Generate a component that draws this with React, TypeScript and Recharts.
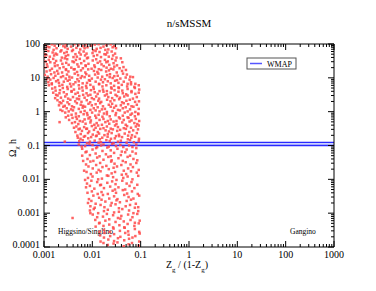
import React from 'react';
import { ScatterChart, Scatter, XAxis, YAxis, ReferenceLine, ReferenceArea } from 'recharts';

// ---- axes ----
const xMajorTicks = [0.001, 0.01, 0.1, 1, 10, 100, 1000];
const xTickLabels = ['0.001', '0.01', '0.1', '1', '10', '100', '1000'];
const yMajorTicks = [0.0001, 0.001, 0.01, 0.1, 1, 10, 100];
const yTickLabels = ['0.0001', '0.001', '0.01', '0.1', '1', '10', '100'];
const minorMultipliers = [2, 3, 4, 5, 6, 7, 8, 9];

// ---- WMAP band ----
const wmapLow = 0.1;
const wmapHigh = 0.123;

// ---- scan points: each row = [Zg/(1-Zg) values], [Omega h^2 values] ----
const upperRows: [number[], number[]][] = [
  [[0.00102,0.00117,0.00145,0.00166,0.00209,0.00251,0.00282,0.00363,0.00427,0.00513,0.00631,0.00724,0.00955,0.0112,0.0135,0.017,0.0195,0.024,0.0282],
   [93,84,98,89,99,86.5,96.5,84,99,93,86.5,98,89,96.5,99,84,93,98,86.5]],
  [[0.0011,0.00129,0.00158,0.00182,0.00229,0.00275,0.00309,0.00398,0.00468,0.00562,0.00692,0.00794,0.0105,0.0123,0.0148,0.0186,0.0214,0.0263,0.0309],
   [69,80,67,75,65,80,72,67,77,69,75,80,65,72,77,67,69,80,75]],
  [[0.00105,0.00123,0.00151,0.00174,0.00219,0.00263,0.00295,0.0038,0.00447,0.00537,0.00661,0.00759,0.0101,0.0117,0.0141,0.0178,0.0204,0.0251,0.0295],
   [50,62,56,52,60,54,58,62,50,56,60,52,54,62,58,50,56,60,52]],
  [[0.00102,0.00112,0.00132,0.00162,0.00186,0.00234,0.00282,0.00316,0.00407,0.00479,0.00575,0.00708,0.00813,0.0107,0.0126,0.0151,0.0191,0.0219,0.0269,0.0316],
   [41,47,42.2,45.8,48.8,39.6,44,47,41,42.2,48.8,45.8,39.6,44,47,41,48.8,42.2,45.8,39.6]],
  [[0.00107,0.00126,0.00155,0.00178,0.00224,0.00269,0.00302,0.00389,0.00457,0.0055,0.00676,0.00776,0.0102,0.012,0.0145,0.0182,0.0209,0.0257,0.0302,0.0389],
   [30.6,34,36.4,31.6,32.6,37.7,35.4,30.6,34,36.4,31.6,37.7,32.6,35.4,30.6,34,30.6,36.4,32.6,37.7]],
  [[0.00115,0.00135,0.00166,0.00191,0.0024,0.00288,0.00324,0.00417,0.0049,0.00589,0.00724,0.00832,0.011,0.0129,0.0155,0.0195,0.0224,0.0275,0.0324,0.0417],
   [25,28.9,27,23.4,26,27.8,24.2,28.9,25,27,23.4,26,23.4,27.8,25,28.9,24.2,27,23.4,28.9]],
  [[0.00101,0.00118,0.00146,0.00168,0.00211,0.00253,0.00285,0.00367,0.00431,0.00518,0.00637,0.00731,0.00965,0.0113,0.0136,0.0172,0.0197,0.0242,0.0285,0.0367,0.0441],
   [20,21.4,18.6,22.2,19.2,20.8,18,20,18,21.4,19.2,22.2,18.6,20.8,18,22.2,20,18.6,21.4,19.2,20.8]],
  [[0.00113,0.00133,0.00164,0.00188,0.00237,0.00285,0.0032,0.00412,0.00484,0.00582,0.00716,0.00822,0.0108,0.0127,0.0153,0.0193,0.0221,0.0272,0.032,0.0412,0.0496],
   [15.4,16.6,14.4,16,14.4,17.1,15.4,17.8,14.9,16.6,14.4,17.8,16,14.9,17.1,15.4,16.6,17.8,14.4,16,17.1]],
  [[0.00104,0.00119,0.0014,0.00172,0.00197,0.00248,0.00299,0.00335,0.00432,0.00507,0.0061,0.0075,0.00861,0.0114,0.0133,0.016,0.0202,0.0232,0.0285,0.0335,0.0432,0.0519,0.061],
   [12.2,10.8,12.8,11.5,13.3,11.2,12.5,10.8,13.3,12,11.2,12.8,11.5,12.5,13.3,10.8,12,12.8,11.2,11.5,13.3,12.5,10.8]],
  [[0.00116,0.00135,0.00158,0.00195,0.00224,0.00282,0.00339,0.0038,0.0049,0.00575,0.00692,0.00851,0.00977,0.0129,0.0151,0.0182,0.0229,0.0263,0.0324,0.038,0.049,0.0589,0.0692],
   [9.2,8.85,9.9,8.55,10.5,9.5,8.85,10.2,9.1,9.9,10.5,8.55,9.5,10.2,8.85,9.1,10.5,9.9,8.55,9.5,10.2,8.85,10.5]],
  [[0.00123,0.00145,0.00178,0.00204,0.00257,0.00309,0.00347,0.00447,0.00525,0.00631,0.00776,0.00891,0.0117,0.0138,0.0166,0.0209,0.024,0.0295,0.0347,0.0447,0.0537,0.0631,0.0776],
   [7.4,6.88,7.9,7.1,7.7,8.2,6.66,7.4,7.9,6.88,7.1,8.2,7.7,6.66,7.4,7.9,6.88,8.2,7.1,7.7,6.66,7.4,6.66]],
  [[0.00126,0.00145,0.0017,0.00209,0.0024,0.00302,0.00363,0.00407,0.00525,0.00617,0.00741,0.00912,0.0105,0.0138,0.0162,0.0195,0.0245,0.0282,0.0347,0.0407,0.0525,0.0631,0.0741,0.0912],
   [6.03,6.44,5.2,5.8,6.2,5.4,5.57,6.44,6.03,5.2,5.8,6.2,5.4,6.44,5.57,6.03,5.2,5.8,5.2,6.2,5.57,6.44,5.4,6.03]],
  [[0.00148,0.00174,0.00214,0.00245,0.00309,0.00372,0.00417,0.00537,0.00631,0.00759,0.00933,0.0107,0.0141,0.0166,0.02,0.0251,0.0288,0.0355,0.0417,0.0537,0.0646,0.0759,0.0933],
   [4.82,4.19,4.32,5.0,4.68,4.05,4.5,4.82,4.19,5.0,4.32,4.68,4.05,4.5,4.05,4.82,4.32,5.0,4.19,4.68,4.05,5.0,4.5]],
  [[0.00155,0.00178,0.00209,0.00257,0.00295,0.00372,0.00447,0.00501,0.00646,0.00759,0.00912,0.0112,0.0129,0.017,0.02,0.024,0.0302,0.0347,0.0427,0.0501,0.0646,0.0776,0.0912],
   [3.64,3.15,3.5,3.75,3.26,3.89,3.36,3.64,3.15,3.5,3.15,3.75,3.36,3.89,3.26,3.64,3.15,3.89,3.5,3.26,3.75,3.36,3.64]],
  [[0.0017,0.00191,0.00224,0.00275,0.00316,0.00398,0.00479,0.00537,0.00692,0.00813,0.00977,0.012,0.0138,0.0182,0.0214,0.0257,0.0324,0.0372,0.0457,0.0537,0.0692,0.0832],
   [2.51,3.0,2.59,2.81,2.43,2.7,2.43,2.89,2.59,3.0,2.51,2.81,2.43,3.0,2.7,2.51,2.89,2.59,2.81,3.0,2.43,2.7]],
  [[0.0019,0.00211,0.00248,0.00306,0.00351,0.00442,0.00531,0.00596,0.00767,0.00902,0.0108,0.0133,0.0153,0.0202,0.0237,0.0285,0.0359,0.0412,0.0507,0.0596,0.0767,0.0923],
   [2.18,1.89,2.1,1.89,2.25,2.02,2.33,1.95,2.18,1.89,2.33,2.1,1.95,2.25,2.02,2.18,2.33,1.89,2.1,2.25,1.95,2.02]],
  [[0.00204,0.00229,0.00269,0.00331,0.0038,0.00479,0.00575,0.00646,0.00832,0.00977,0.0117,0.0145,0.0166,0.0219,0.0257,0.0309,0.0389,0.0447,0.055,0.0646,0.0832],
   [1.54,1.78,1.49,1.66,1.44,1.78,1.6,1.49,1.71,1.54,1.66,1.78,1.44,1.6,1.71,1.49,1.54,1.78,1.66,1.44,1.6]],
  [[0.00219,0.00251,0.00295,0.00363,0.00417,0.00525,0.00631,0.00708,0.00912,0.0107,0.0129,0.0158,0.0182,0.024,0.0282,0.0339,0.0427,0.049,0.0603,0.0708,0.0912],
   [1.13,1.4,1.26,1.17,1.35,1.21,1.31,1.4,1.13,1.26,1.35,1.17,1.21,1.4,1.31,1.13,1.26,1.35,1.17,1.4,1.21]],
  [[0.0024,0.00275,0.00324,0.00398,0.00457,0.00575,0.00692,0.00776,0.0099,0.0117,0.0141,0.0174,0.02,0.0263,0.0309,0.0372,0.0468,0.0537,0.0661,0.0776,0.0891],
   [1.05,0.94,1.02,1.09,0.88,0.98,1.05,0.91,0.94,1.09,1.02,0.88,0.98,1.05,0.91,1.09,0.94,1.02,0.88,0.98,0.88]],
  [[0.00282,0.00316,0.00372,0.00457,0.00525,0.00661,0.00794,0.00891,0.0115,0.0135,0.0162,0.02,0.0229,0.0302,0.0355,0.0427,0.0537,0.0617,0.0759,0.0891],
   [0.68,0.76,0.81,0.71,0.73,0.84,0.79,0.68,0.76,0.81,0.71,0.84,0.73,0.79,0.68,0.76,0.68,0.81,0.73,0.84]],
  [[0.00331,0.00389,0.00479,0.0055,0.00692,0.00832,0.00933,0.012,0.0141,0.017,0.0209,0.024,0.0316,0.0372,0.0447,0.0562,0.0646,0.0794,0.0933],
   [0.57,0.655,0.61,0.53,0.59,0.63,0.55,0.655,0.57,0.61,0.53,0.59,0.53,0.63,0.57,0.655,0.55,0.61,0.53]],
  [[0.0038,0.00437,0.00513,0.00631,0.00724,0.00912,0.011,0.0123,0.0158,0.0186,0.0224,0.0275,0.0316,0.0417,0.049,0.0589,0.0741,0.0851],
   [0.46,0.49,0.43,0.51,0.44,0.48,0.41,0.46,0.41,0.49,0.44,0.51,0.43,0.48,0.41,0.51,0.46,0.43]],
  [[0.00417,0.00468,0.0055,0.00676,0.00776,0.00977,0.0117,0.0132,0.017,0.02,0.024,0.0295,0.0339,0.0447,0.0525,0.0631,0.0794,0.0912],
   [0.335,0.365,0.315,0.35,0.315,0.375,0.335,0.39,0.325,0.365,0.315,0.39,0.35,0.325,0.375,0.335,0.365,0.39]],
  [[0.00447,0.00519,0.0061,0.0075,0.00861,0.0108,0.013,0.0146,0.0188,0.0221,0.0266,0.0327,0.0376,0.0495,0.0582,0.07,0.0881],
   [0.25,0.30,0.27,0.31,0.26,0.29,0.25,0.31,0.28,0.26,0.30,0.27,0.29,0.31,0.25,0.28,0.30]],
  [[0.0049,0.00575,0.00708,0.00813,0.0102,0.0123,0.0138,0.0178,0.0209,0.0251,0.0309,0.0355,0.0468,0.055,0.0661,0.0832],
   [0.196,0.218,0.19,0.233,0.21,0.196,0.225,0.202,0.218,0.233,0.19,0.21,0.225,0.196,0.202,0.233]],
  [[0.00501,0.00569,0.00668,0.00822,0.00944,0.0119,0.0143,0.016,0.0207,0.0243,0.0292,0.0359,0.0412,0.0543,0.0638,0.0767,0.0923],
   [0.17,0.158,0.182,0.163,0.177,0.189,0.153,0.17,0.182,0.158,0.163,0.189,0.177,0.153,0.17,0.182,0.158]],
  [[0.00537,0.00631,0.00776,0.00891,0.0112,0.0135,0.0151,0.0195,0.0229,0.0275,0.0339,0.0389,0.0513,0.0603,0.0724,0.0912],
   [0.135,0.144,0.117,0.13,0.139,0.121,0.125,0.144,0.135,0.117,0.13,0.139,0.121,0.144,0.125,0.135]],
  [[0.00525,0.00603,0.00708,0.00871,0.0101,0.0126,0.0151,0.017,0.0219,0.0257,0.0309,0.038,0.0437,0.0575,0.0676,0.0813],
   [0.107,0.093,0.096,0.111,0.104,0.09,0.1,0.107,0.093,0.111,0.096,0.104,0.09,0.1,0.09,0.107]],
];

const lowerRows: [number[], number[]][] = [
  [[0.00617,0.00759,0.0101,0.012,0.0162,0.0204,0.024,0.0331,0.0407,0.0513,0.0676,0.0813],
   [0.08,0.066,0.076,0.084,0.069,0.087,0.072,0.08,0.066,0.076,0.066,0.084]],
  [[0.00617,0.00724,0.00891,0.0117,0.0141,0.0191,0.024,0.0282,0.0389,0.0479,0.0603,0.0794],
   [0.05,0.063,0.052,0.058,0.048,0.055,0.048,0.0605,0.052,0.063,0.05,0.058]],
  [[0.00646,0.00794,0.0105,0.0126,0.017,0.0214,0.0251,0.0347,0.0427,0.0537,0.0708,0.0851],
   [0.035,0.04,0.035,0.044,0.038,0.046,0.0365,0.042,0.035,0.046,0.04,0.0365]],
  [[0.00741,0.00912,0.012,0.0145,0.0195,0.0245,0.0288,0.0398,0.049,0.0617,0.0813],
   [0.0275,0.0335,0.0265,0.0305,0.025,0.0335,0.029,0.0265,0.032,0.0275,0.0305]],
  [[0.00676,0.00832,0.0102,0.0135,0.0162,0.0219,0.0275,0.0324,0.0447,0.055,0.0692,0.0912],
   [0.018,0.024,0.021,0.019,0.023,0.02,0.022,0.024,0.018,0.021,0.023,0.019]],
  [[0.00759,0.00933,0.0123,0.0148,0.02,0.0251,0.0295,0.0407,0.0501,0.0631,0.0832],
   [0.0165,0.0143,0.0158,0.0173,0.013,0.015,0.0165,0.0137,0.0143,0.0173,0.0158]],
  [[0.00708,0.00813,0.0101,0.0132,0.0158,0.0214,0.0269,0.0316,0.0437,0.0537,0.0676,0.0891],
   [0.0096,0.011,0.0121,0.01,0.0105,0.0127,0.0116,0.0096,0.011,0.0121,0.01,0.0127]],
  [[0.00776,0.00955,0.0126,0.0151,0.0204,0.0257,0.0302,0.0417,0.0513,0.0646,0.0851],
   [0.0075,0.0091,0.0083,0.0069,0.0079,0.0087,0.0072,0.0091,0.0075,0.0083,0.0069]],
  [[0.00741,0.00891,0.011,0.0145,0.0174,0.0234,0.0295,0.0347,0.0479,0.0589,0.0741],
   [0.0058,0.0064,0.0053,0.0067,0.0055,0.0061,0.005,0.0058,0.005,0.0064,0.0055]],
  [[0.00794,0.00977,0.0129,0.0155,0.0209,0.0263,0.0309,0.0427,0.0525,0.0661,0.0871],
   [0.004,0.0044,0.0037,0.0042,0.0037,0.0046,0.004,0.0048,0.0038,0.0044,0.0037]],
  [[0.00851,0.0105,0.0138,0.0166,0.0224,0.0282,0.0331,0.0457,0.0562,0.0708,0.0933],
   [0.0026,0.0033,0.00285,0.00345,0.0027,0.00315,0.0026,0.00345,0.003,0.0027,0.0033]],
  [[0.00813,0.00955,0.0117,0.0155,0.0186,0.0251,0.0316,0.0372,0.0513,0.0631,0.0794],
   [0.002,0.0023,0.0019,0.0025,0.0022,0.002,0.0024,0.0021,0.0023,0.0025,0.0019]],
  [[0.00912,0.0112,0.0148,0.0178,0.024,0.0302,0.0355,0.049,0.0603,0.0759,0.0891],
   [0.0016,0.00145,0.00175,0.0015,0.00168,0.00183,0.0014,0.0016,0.00175,0.00145,0.0015]],
  [[0.00891,0.0107,0.0132,0.0174,0.0209,0.0282,0.0355,0.0417,0.0575,0.0708,0.0891],
   [0.0012,0.00132,0.001,0.00115,0.00126,0.00105,0.0011,0.00132,0.0012,0.001,0.00115]],
  [[0.0102,0.0126,0.0166,0.02,0.0269,0.0339,0.0398,0.055,0.0676,0.0851],
   [0.00091,0.00076,0.00079,0.00095,0.00087,0.00072,0.00083,0.00091,0.00076,0.00095]],
  [[0.0115,0.0141,0.0186,0.0224,0.0302,0.038,0.0447,0.0617,0.0759,0.0955],
   [0.00063,0.00052,0.0006,0.00066,0.00055,0.00069,0.00057,0.00063,0.00052,0.0006]],
  [[0.0117,0.0138,0.017,0.0224,0.0269,0.0363,0.0457,0.0537,0.0741,0.0912],
   [0.0004,0.0005,0.00042,0.00046,0.00038,0.00044,0.00038,0.00048,0.00042,0.0005]],
  [[0.0141,0.0174,0.0229,0.0275,0.0372,0.0468,0.055,0.0759,0.0933],
   [0.00028,0.00032,0.00028,0.00035,0.0003,0.00037,0.00029,0.00034,0.00028]],
  [[0.0145,0.0178,0.0234,0.0282,0.038,0.0479,0.0562,0.0776,0.0955],
   [0.00022,0.00026,0.00021,0.00024,0.0002,0.00026,0.00023,0.00021,0.00025]],
  [[0.0148,0.0174,0.0214,0.0282,0.0339,0.0457,0.0575,0.0676,0.0933],
   [0.000145,0.00019,0.000166,0.00015,0.000182,0.000158,0.000175,0.00019,0.000145]],
  [[0.017,0.0209,0.0275,0.0331,0.0447,0.0562,0.0661,0.0912],
   [0.000131,0.000115,0.000126,0.000137,0.000106,0.00012,0.000131,0.00011]],
];

const outlierX = [0.0021, 0.0027, 0.0039, 0.0091];
const outlierY = [0.49, 0.13, 0.00072, 0.001];

const scanData: { x: number; y: number }[] = [];
[...upperRows, ...lowerRows, [outlierX, outlierY] as [number[], number[]]].forEach(([xs, ys]) => {
  xs.forEach((x, i) => scanData.push({ x, y: ys[i] }));
});

const buildTicks = (majors: number[]) => {
  const out: number[] = [];
  majors.forEach((m, i) => {
    out.push(m);
    if (i < majors.length - 1) minorMultipliers.forEach((k) => out.push(m * k));
  });
  return out;
};
const xTicks = buildTicks(xMajorTicks);
const yTicks = buildTicks(yMajorTicks);

const majorIndex = (v: number, majors: number[]) =>
  majors.findIndex((m) => Math.abs(v - m) / m < 1e-6);

const FONT = '"Liberation Serif", "DejaVu Serif", serif';

const BottomTick = (props: any) => {
  const { x, y, payload } = props;
  const idx = majorIndex(payload.value, xMajorTicks);
  const len = idx >= 0 ? 6 : 3;
  return (
    <g>
      <line x1={x} x2={x} y1={y} y2={y - len} stroke="#000" strokeWidth={1} />
      {idx >= 0 && (
        <text x={x} y={y + 11} textAnchor="middle" fontSize={10} fontFamily={FONT} fill="#000">
          {xTickLabels[idx]}
        </text>
      )}
    </g>
  );
};

const TopTick = (props: any) => {
  const { x, y, payload } = props;
  const idx = majorIndex(payload.value, xMajorTicks);
  const len = idx >= 0 ? 6 : 3;
  return <line x1={x} x2={x} y1={y} y2={y + len} stroke="#000" strokeWidth={1} />;
};

const LeftTick = (props: any) => {
  const { x, y, payload } = props;
  const idx = majorIndex(payload.value, yMajorTicks);
  const len = idx >= 0 ? 6 : 3;
  const dy = idx === 0 ? 1 : 3;
  return (
    <g>
      <line x1={x} x2={x + len} y1={y} y2={y} stroke="#000" strokeWidth={1} />
      {idx >= 0 && (
        <text x={x - 4} y={y + dy} textAnchor="end" fontSize={10} fontFamily={FONT} fill="#000">
          {yTickLabels[idx]}
        </text>
      )}
    </g>
  );
};

const RightTick = (props: any) => {
  const { x, y, payload } = props;
  const idx = majorIndex(payload.value, yMajorTicks);
  const len = idx >= 0 ? 6 : 3;
  return <line x1={x} x2={x - len} y1={y} y2={y} stroke="#000" strokeWidth={1} />;
};

const PointShape = (props: any) => {
  const { cx, cy } = props;
  if (cx == null || cy == null) return null;
  return <rect x={cx - 1.25} y={cy - 1.25} width={2.5} height={2.5} fill="#ff4848" fillOpacity={0.85} />;
};

const axisLine = { stroke: '#000', strokeWidth: 1 };

export default function App() {
  return (
    <div style={{ position: 'absolute', left: 0, top: 0, background: '#fff' }}>
      <ScatterChart width={376} height={291} margin={{ top: 43, right: 41, bottom: 43, left: 43 }}>
        <XAxis
          xAxisId="main"
          dataKey="x"
          type="number"
          scale="log"
          domain={[0.001, 1000]}
          allowDataOverflow
          ticks={xTicks}
          interval={0}
          tickSize={0}
          tickMargin={0}
          tick={<BottomTick />}
          tickLine={false}
          axisLine={axisLine}
          height={1}
        />
        <XAxis
          xAxisId="top"
          orientation="top"
          dataKey="x"
          type="number"
          scale="log"
          domain={[0.001, 1000]}
          allowDataOverflow
          ticks={xTicks}
          interval={0}
          tickSize={0}
          tickMargin={0}
          tick={<TopTick />}
          tickLine={false}
          axisLine={axisLine}
          height={1}
        />
        <YAxis
          yAxisId="main"
          dataKey="y"
          type="number"
          scale="log"
          domain={[0.0001, 100]}
          allowDataOverflow
          ticks={yTicks}
          interval={0}
          tickSize={0}
          tickMargin={0}
          tick={<LeftTick />}
          tickLine={false}
          axisLine={axisLine}
          width={1}
        />
        <YAxis
          yAxisId="right"
          orientation="right"
          dataKey="y"
          type="number"
          scale="log"
          domain={[0.0001, 100]}
          allowDataOverflow
          ticks={yTicks}
          interval={0}
          tickSize={0}
          tickMargin={0}
          tick={<RightTick />}
          tickLine={false}
          axisLine={axisLine}
          width={1}
        />
        <Scatter
          xAxisId="main"
          yAxisId="main"
          data={scanData}
          shape={<PointShape />}
          isAnimationActive={false}
        />
        <Scatter xAxisId="top" yAxisId="right" data={[]} isAnimationActive={false} />
        <ReferenceArea
          xAxisId="main"
          yAxisId="main"
          y1={wmapLow}
          y2={wmapHigh}
          fill="#b8c0ff"
          fillOpacity={0.7}
          stroke="none"
        />
        <ReferenceLine xAxisId="main" yAxisId="main" y={wmapLow} stroke="#2a2aff" strokeWidth={1.3} />
        <ReferenceLine xAxisId="main" yAxisId="main" y={wmapHigh} stroke="#2a2aff" strokeWidth={1.3} />
        <text x={189} y={27} textAnchor="middle" fontSize={11} fontFamily={FONT} fill="#000">
          n/sMSSM
        </text>
        <text x={187} y={268} textAnchor="middle" fontSize={10} fontFamily={FONT} fill="#000">
          Z<tspan dy={4} fontSize={7}>g</tspan>
          <tspan dy={-4}> / (1-Z</tspan>
          <tspan dy={4} fontSize={7}>g</tspan>
          <tspan dy={-4}>)</tspan>
        </text>
        <text
          x={16}
          y={148}
          transform="rotate(-90 16 148)"
          textAnchor="middle"
          fontSize={10}
          fontFamily={FONT}
          fill="#000"
        >
          Ω<tspan dy={3} fontSize={7}>χ</tspan>
          <tspan dy={-3}> h</tspan>
        </text>
        <text x={58} y={234} fontSize={7.5} fontFamily={FONT} fill="#000">
          Higgsino/Singlino
        </text>
        <text x={290} y={234} fontSize={7.5} fontFamily={FONT} fill="#000">
          Gangino
        </text>
        <g>
          <rect x={247} y={58} width={49} height={11} fill="#fff" stroke="#555" strokeWidth={1} />
          <line x1={250} x2={262} y1={63.5} y2={63.5} stroke="#5555ff" strokeWidth={1.5} />
          <text x={267} y={66.5} fontSize={8} fontFamily={FONT} fill="#000">
            WMAP
          </text>
        </g>
      </ScatterChart>
    </div>
  );
}
